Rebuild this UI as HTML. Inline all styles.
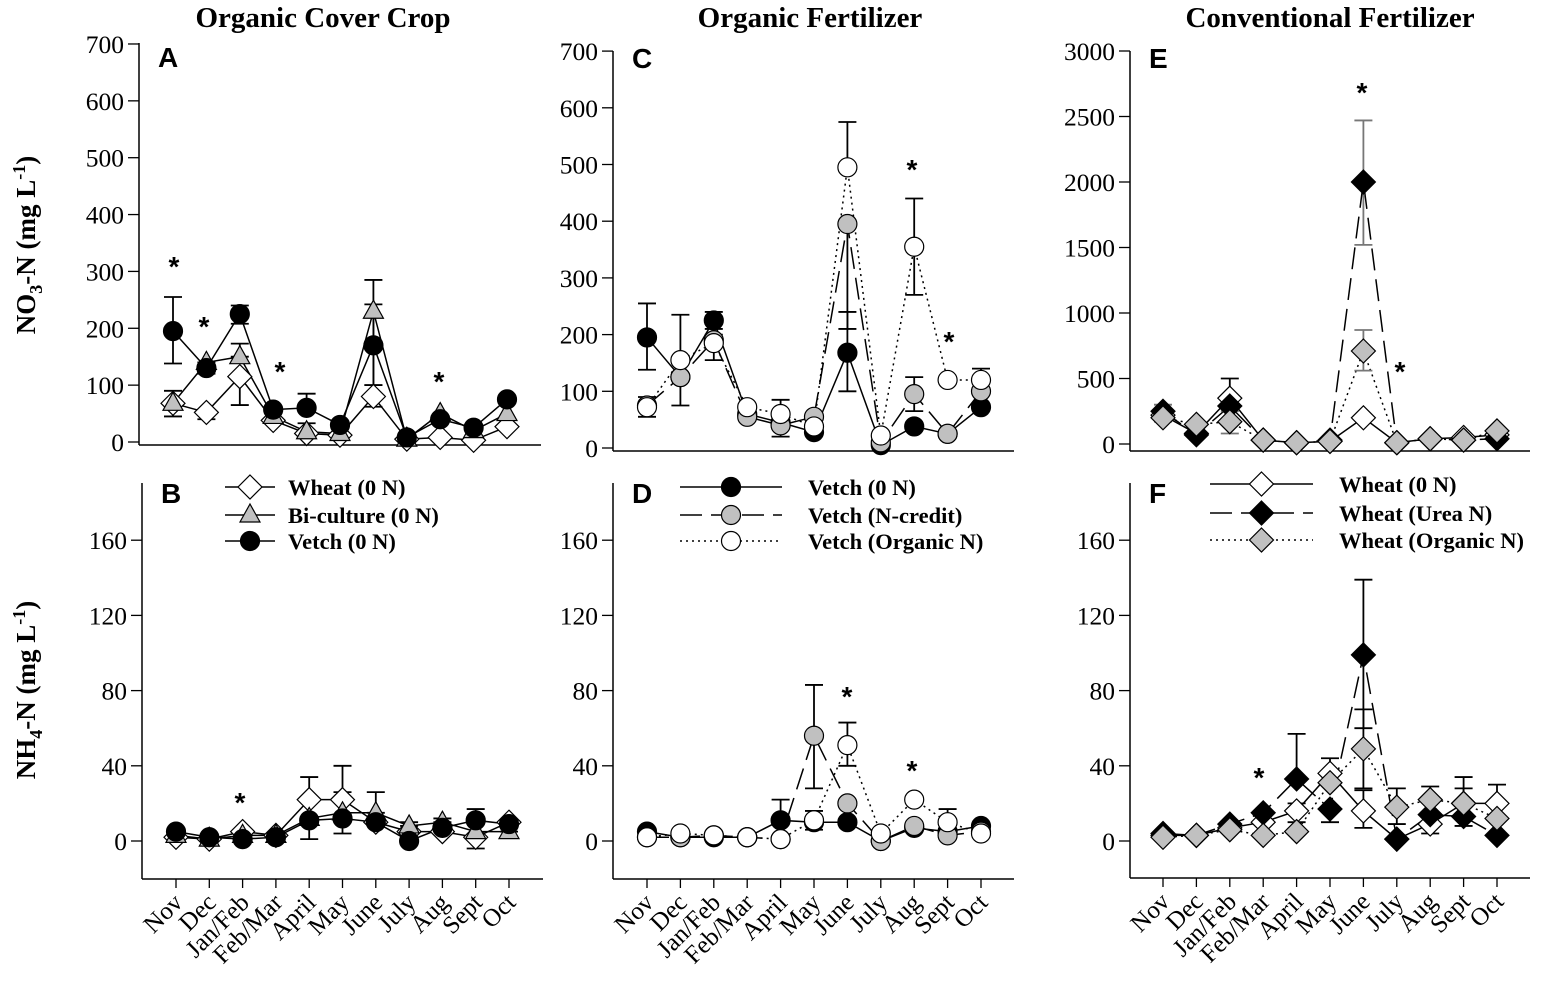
<!DOCTYPE html>
<html><head><meta charset="utf-8"><style>
html,body{margin:0;padding:0;background:#fff;}
svg{display:block;}
text{font-family:"Liberation Serif",serif;fill:#000;}
</style></head><body>
<svg id="s" width="1547" height="989" xmlns="http://www.w3.org/2000/svg"></svg>
<script>
const S=document.getElementById('s');let h='';
const months=['Nov','Dec','Jan/Feb','Feb/Mar','April','May','June','July','Aug','Sept','Oct'];
function panel(p){
 const X=i=>p.x0+i*(p.x1-p.x0)/10, Y=v=>p.yzero-v*p.scale;
 const top=p.axTop;
 h+=`<line x1="${p.ax}" y1="${top}" x2="${p.ax}" y2="${p.ybot}" stroke="#000" stroke-width="1.5"/>`;
 h+=`<line x1="${p.ax}" y1="${p.ybot}" x2="${p.xend}" y2="${p.ybot}" stroke="#000" stroke-width="1.5"/>`;
 p.ticks.forEach(t=>{const y=Y(t);h+=`<line x1="${p.ax-11}" y1="${y}" x2="${p.ax}" y2="${y}" stroke="#000" stroke-width="1.3"/><text x="${p.ax-15}" y="${y+9}" font-size="25.5" text-anchor="end">${t}</text>`;});
 h+=`<text x="${p.ax+19}" y="${p.labY}" font-size="28" font-weight="bold" style="font-family:'Liberation Sans',sans-serif">${p.label}</text>`;
 if(p.bottom){months.forEach((m,i)=>{const x=X(i);h+=`<line x1="${x}" y1="${p.ybot}" x2="${x}" y2="${p.ybot+9}" stroke="#000" stroke-width="1.3"/><text transform="translate(${x+8},${p.ybot+25}) rotate(-45)" font-size="25" text-anchor="end">${m}</text>`;});}
 p.series.forEach(s=>{
  const pts=s.v.map((v,i)=>[X(i),Y(v)]);
  const da=s.dash==='dash'?'stroke-dasharray="22,9"':s.dash==='dot'?'stroke-dasharray="2,4"':'';
  h+=`<polyline points="${pts.map(q=>q.join(',')).join(' ')}" fill="none" stroke="#000" stroke-width="1.5" ${da}/>`;
  (s.e||[]).forEach(e=>{if(!e)return;const [i,lo,hi]=e;const x=X(i);const c=s.ec||'#000';
   h+=`<line x1="${x}" y1="${Y(lo)}" x2="${x}" y2="${Y(hi)}" stroke="${c}" stroke-width="1.8"/>`;
   h+=`<line x1="${x-9}" y1="${Y(hi)}" x2="${x+9}" y2="${Y(hi)}" stroke="${c}" stroke-width="1.8"/>`;
   h+=`<line x1="${x-9}" y1="${Y(lo)}" x2="${x+9}" y2="${Y(lo)}" stroke="${c}" stroke-width="1.8"/>`;});
 });
 p.series.forEach(s=>{s.v.forEach((v,i)=>{h+=marker(s.m,s.f,X(i),Y(v));});});
 (p.stars||[]).forEach(st=>{h+=`<text x="${st[0]}" y="${st[1]+14}" font-size="28" font-weight="bold" text-anchor="middle" style="font-family:'Liberation Sans',sans-serif">*</text>`;});
 if(p.legend){const L=p.legend;L.items.forEach((it,k)=>{const y=L.y[k];
  const da=it.dash==='dash'?'stroke-dasharray="22,9"':it.dash==='dot'?'stroke-dasharray="2,4"':'';
  h+=`<line x1="${L.x0}" y1="${y}" x2="${L.x1}" y2="${y}" stroke="#000" stroke-width="1.5" ${da}/>`;
  h+=marker(it.m,it.f,(L.x0+L.x1)/2,y);
  h+=`<text x="${L.tx}" y="${y+8}" font-size="22.5" font-weight="bold">${it.t}</text>`;});}
}
function marker(m,f,x,y){
 if(m==='c')return `<circle cx="${x}" cy="${y}" r="9.5" fill="${f}" stroke="#000" stroke-width="1.2"/>`;
 if(m==='d')return `<polygon points="${x},${y-12} ${x+12},${y} ${x},${y+12} ${x-12},${y}" fill="${f}" stroke="#000" stroke-width="1.2"/>`;
 return `<polygon points="${x},${y-11} ${x+10},${y+7} ${x-10},${y+7}" fill="${f}" stroke="#000" stroke-width="1.2"/>`;
}
const G='#c0c0c0';
panel({ax:139,x0:173,x1:507,xend:541,ybot:445,yzero:442,scale:0.5686,axTop:43,ticks:[0,100,200,300,400,500,600,700],label:'A',labY:67,
 series:[
 {m:'d',f:'#fff',v:[68,52,115,38,15,12,80,5,8,3,27],e:[[2,65,115],[6,62,80],[1,40,52]]},
 {m:'t',f:G,v:[68,140,150,45,18,15,230,5,50,20,50],e:[[0,45,90],[2,150,173],[4,18,33],[6,100,242]]},
 {m:'c',f:'#000',v:[195,130,225,57,60,30,170,8,40,25,75],e:[[0,138,255],[1,120,140],[2,208,240],[4,60,85],[6,100,285]]}],
 stars:[[174,262],[204,322],[280,367],[439,377]]});
panel({ax:142,x0:176,x1:509,xend:543,ybot:879,yzero:841,scale:1.88,axTop:483,ticks:[0,40,80,120,160],label:'B',labY:503,bottom:true,
 series:[
 {m:'d',f:'#fff',v:[2,1,5,3,22,22,10,5,5,2,10],e:[[4,22,34],[5,22,26],[9,-4,2]]},
 {m:'t',f:G,v:[3,1,3,3,12,15,15,8,10,5,5],e:[[6,15,26],[7,8,10],[8,10,12],[10,5,11]]},
 {m:'c',f:'#000',v:[5,2,1,2,11,12,10,0,7,11,9],e:[[4,1,11],[5,4,40],[9,11,17]]}],
 stars:[[240,798]],
 legend:{x0:225,x1:275,tx:288,y:[487,515,541],items:[{m:'d',f:'#fff',t:'Wheat (0 N)'},{m:'t',f:G,t:'Bi-culture (0 N)'},{m:'c',f:'#000',t:'Vetch (0 N)'}]}});
panel({ax:613,x0:647,x1:981,xend:1014,ybot:451,yzero:448,scale:0.567,axTop:51,ticks:[0,100,200,300,400,500,600,700],label:'C',labY:68,
 series:[
 {m:'c',f:'#000',dash:'',v:[195,125,225,60,45,28,168,5,38,25,72],e:[[0,138,255],[2,210,240],[6,100,240]]},
 {m:'c',f:G,dash:'dash',v:[75,125,190,55,40,55,395,10,95,25,100],e:[[1,75,235],[4,20,50],[6,210,400],[8,65,125]]},
 {m:'c',f:'#fff',dash:'dot',v:[72,155,185,72,60,38,495,22,355,120,120],e:[[0,55,90],[2,155,200],[4,60,85],[6,495,575],[8,270,440],[10,100,140]]}],
 stars:[[912,165],[949,337]]});
panel({ax:613,x0:647,x1:981,xend:1014,ybot:879,yzero:841,scale:1.88,axTop:483,ticks:[0,40,80,120,160],label:'D',labY:503,bottom:true,
 series:[
 {m:'c',f:'#000',v:[5,2,2,2,11,10,10,0,7,5,8],e:[[4,11,22]]},
 {m:'c',f:G,dash:'dash',v:[2,2,3,2,1,56,20,0,8,3,5],e:[[5,28,83]]},
 {m:'c',f:'#fff',dash:'dot',v:[2,4,3,2,1,11,51,4,22,10,4],e:[[5,6,16],[6,40,63],[9,10,17]]}],
 stars:[[847,692],[912,766]],
 legend:{x0:680,x1:782,tx:808,y:[487,515,541],items:[{m:'c',f:'#000',t:'Vetch (0 N)'},{m:'c',f:G,dash:'dash',t:'Vetch (N-credit)'},{m:'c',f:'#fff',dash:'dot',t:'Vetch (Organic N)'}]}});
panel({ax:1130,x0:1163,x1:1497,xend:1530,ybot:451,yzero:444,scale:0.131,axTop:51,ticks:[0,500,1000,1500,2000,2500,3000],label:'E',labY:68,
 series:[
 {m:'d',f:'#fff',v:[220,80,350,30,10,20,200,10,40,50,70],e:[[2,350,500]]},
 {m:'d',f:'#000',dash:'dash',ec:'#777',v:[250,70,290,30,10,30,2000,10,40,30,40],e:[[6,1520,2470]]},
 {m:'d',f:G,dash:'dot',ec:'#777',v:[200,150,170,30,10,20,710,10,40,30,100],e:[[0,170,300],[2,80,250],[6,560,870]]}],
 stars:[[1362,88],[1400,367]]});
panel({ax:1130,x0:1163,x1:1497,xend:1530,ybot:878,yzero:841,scale:1.88,axTop:483,ticks:[0,40,80,120,160],label:'F',labY:503,bottom:true,
 series:[
 {m:'d',f:'#fff',v:[3,3,7,10,16,36,16,1,9,20,20],e:[[4,10,20],[5,36,44],[6,7,27],[8,4,9],[10,20,30]]},
 {m:'d',f:'#000',dash:'dash',v:[4,3,9,15,33,17,99,1,14,13,3],e:[[4,33,57],[5,10,17],[6,60,139],[9,8,28]]},
 {m:'d',f:G,dash:'dot',v:[2,3,6,3,5,31,49,18,22,20,12],e:[[6,28,70],[7,9,28],[8,22,29],[9,20,34]]}],
 stars:[[1259,773]],
 legend:{x0:1210,x1:1313,tx:1339,y:[484,513,540],items:[{m:'d',f:'#fff',t:'Wheat (0 N)'},{m:'d',f:'#000',dash:'dash',t:'Wheat (Urea N)'},{m:'d',f:G,dash:'dot',t:'Wheat (Organic N)'}]}});
h+=`<text x="323" y="27" font-size="29" font-weight="bold" text-anchor="middle">Organic Cover Crop</text>`;
h+=`<text x="810" y="27" font-size="29" font-weight="bold" text-anchor="middle">Organic Fertilizer</text>`;
h+=`<text x="1330" y="27" font-size="29" font-weight="bold" text-anchor="middle">Conventional Fertilizer</text>`;
h+=`<text transform="translate(35,245) rotate(-90)" font-size="27" font-weight="bold" text-anchor="middle">NO<tspan font-size="18" dy="7">3</tspan><tspan dy="-7">-N (mg L</tspan><tspan font-size="18" dy="-10">-1</tspan><tspan dy="10">)</tspan></text>`;
h+=`<text transform="translate(35,690) rotate(-90)" font-size="27" font-weight="bold" text-anchor="middle">NH<tspan font-size="18" dy="7">4</tspan><tspan dy="-7">-N (mg L</tspan><tspan font-size="18" dy="-10">-1</tspan><tspan dy="10">)</tspan></text>`;
S.innerHTML=h;
</script>
</body></html>
